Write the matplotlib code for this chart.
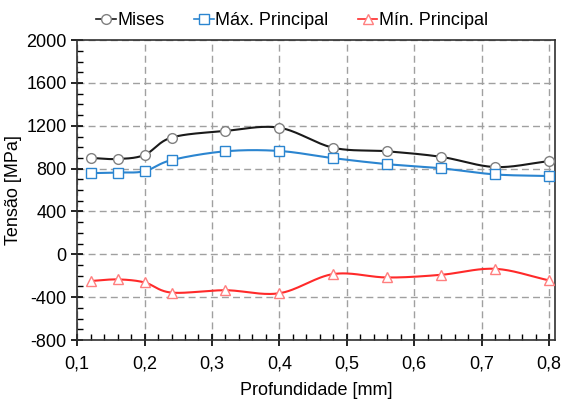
import numpy as np
import matplotlib
matplotlib.use('Agg')
import matplotlib.pyplot as plt
from matplotlib.ticker import MultipleLocator, FuncFormatter

plt.rcParams['font.family'] = ['Liberation Sans', 'DejaVu Sans']

depth = [0.12, 0.16, 0.20, 0.24, 0.32, 0.40, 0.48, 0.56, 0.64, 0.72, 0.80]
mises = [900, 890, 928, 1090, 1152, 1182, 995, 962, 910, 815, 870]
max_principal = [758, 764, 776, 880, 962, 965, 898, 842, 803, 746, 731]
min_principal = [-249, -234, -262, -357, -335, -363, -184, -216, -191, -135, -243]


def smooth(x, y, n=30):
    # catmull-rom curve through the points, like excel's smoothed line
    x = np.asarray(x, float)
    y = np.asarray(y, float)
    px = np.concatenate([[2 * x[0] - x[1]], x, [2 * x[-1] - x[-2]]])
    py = np.concatenate([[2 * y[0] - y[1]], y, [2 * y[-1] - y[-2]]])
    xs, ys = [], []
    t = np.linspace(0, 1, n)
    for i in range(1, len(px) - 2):
        for p, out in ((px, xs), (py, ys)):
            p0, p1, p2, p3 = p[i - 1], p[i], p[i + 1], p[i + 2]
            out.extend(0.5 * (2 * p1 + (-p0 + p2) * t
                              + (2 * p0 - 5 * p1 + 4 * p2 - p3) * t ** 2
                              + (-p0 + 3 * p1 - 3 * p2 + p3) * t ** 3))
    return xs, ys


fig = plt.figure(figsize=(5.63, 4.01), dpi=100)
ax = fig.add_axes([0.137, 0.152, 0.849, 0.748])

series = [
    (mises, 'Mises', '#1a1a1a', 'o', '#808080'),
    (max_principal, 'Máx. Principal', '#2b85d0', 's', '#2b85d0'),
    (min_principal, 'Mín. Principal', '#ff2a2a', '^', '#ff7f7f'),
]
for vals, label, col, mk, mec in series:
    sx, sy = smooth(depth, vals)
    ax.plot(sx, sy, color=col, lw=1.5, zorder=3)
    ax.plot(depth, vals, linestyle='', marker=mk, markersize=7,
            markerfacecolor='white', markeredgecolor=mec, markeredgewidth=1.0, zorder=4)
    ax.plot([], [], color=col, lw=1.2, marker=mk, markersize=7,
            markerfacecolor='white', markeredgecolor=mec, label=label)

ax.set_xlim(0.1, 0.809)
ax.set_ylim(-800, 2000)
ax.xaxis.set_major_locator(MultipleLocator(0.1))
ax.xaxis.set_minor_locator(MultipleLocator(0.02))
ax.yaxis.set_major_locator(MultipleLocator(400))
ax.yaxis.set_minor_locator(MultipleLocator(100))
ax.xaxis.set_major_formatter(FuncFormatter(lambda v, p: ('%.1f' % v).replace('.', ',')))
ax.yaxis.set_major_formatter(FuncFormatter(lambda v, p: '%d' % v))
ax.tick_params(which='major', direction='inout', length=8, width=1.2, labelsize=13, colors='black')
ax.tick_params(which='minor', direction='in', length=4, width=1)
ax.tick_params(axis='x', which='major', pad=7)

ax.grid(True, which='major', color='#a0a0a0', linestyle=(0, (5, 3)), linewidth=1)
for s in ax.spines.values():
    s.set_color('#303030')
    s.set_linewidth(1.2)

ax.set_xlabel('Profundidade [mm]', fontsize=13, labelpad=7)
ax.set_ylabel('Tensão [MPa]', fontsize=13, labelpad=3)

ax.legend(loc='lower center', bbox_to_anchor=(0.45, 1.0), ncol=3, frameon=False,
          fontsize=13, handlelength=1.1, handletextpad=0.1, columnspacing=1.6,
          borderaxespad=0.2)

fig.savefig('out.png', dpi=100)
